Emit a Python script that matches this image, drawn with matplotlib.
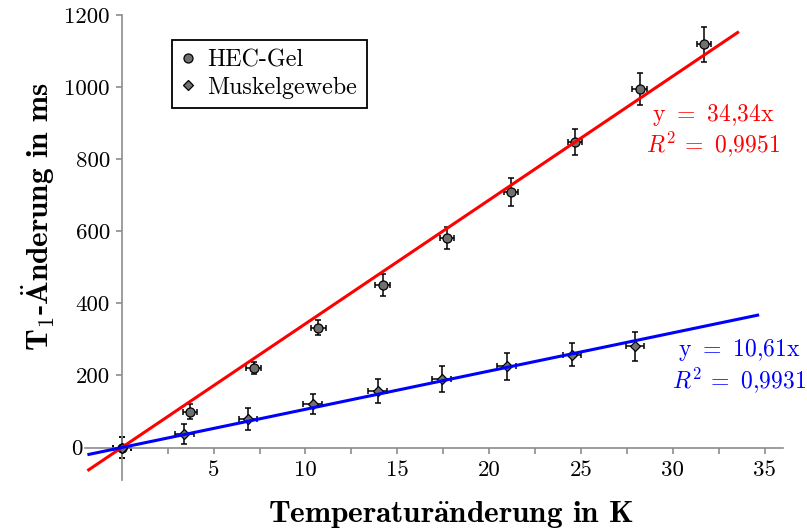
import matplotlib
matplotlib.use("Agg")
import matplotlib.pyplot as plt
from matplotlib.lines import Line2D
from matplotlib.transforms import ScaledTranslation
import numpy as np

plt.rcParams['font.family'] = 'cmr10'
plt.rcParams['mathtext.fontset'] = 'cm'
plt.rcParams['axes.formatter.use_mathtext'] = True

# ---- data ----
hec_x = [0, 3.72, 7.18, 10.7, 14.2, 17.7, 21.19, 24.67, 28.2, 31.7]
hec_y = [0, 100, 220, 333, 451, 582, 710, 848, 994, 1119]
hec_yerr = [28, 20, 16, 20, 30, 31, 39, 36, 45, 48]
hec_xerr = [0.5, 0.4, 0.4, 0.4, 0.4, 0.4, 0.4, 0.4, 0.4, 0.4]

mus_x = [0, 3.41, 6.89, 10.39, 13.93, 17.41, 20.95, 24.5, 27.95]
mus_y = [0, 37, 79, 120, 157, 190, 225, 257, 281]
mus_yerr = [28, 28, 30, 28, 33, 37, 37, 32, 40]
mus_xerr = [0.5, 0.5, 0.5, 0.5, 0.5, 0.5, 0.5, 0.5, 0.5]

hec_slope = 34.34
mus_slope = 10.61
hec_fit_range = [-1.87, 33.6]
mus_fit_range = [-1.87, 34.7]

hec_label = "HEC-Gel"
mus_label = "Muskelgewebe"
hec_eq = [r"y $=$ 34,34x", r"$R^2\,=$ 0,9951"]
mus_eq = [r"y $=$ 10,61x", r"$R^2\,=$ 0,9931"]

xticks = [5, 10, 15, 20, 25, 30, 35]
xtick_labels = ["5", "10", "15", "20", "25", "30", "35"]
xminor = [0, 2.5, 7.5, 12.5, 17.5, 22.5, 27.5, 32.5]
yticks = [0, 200, 400, 600, 800, 1000, 1200]
ytick_labels = ["0", "200", "400", "600", "800", "1000", "1200"]

xlabel = r"Temperatur$\mathbf{\ddot{a}}$nderung in K"
ylabel = r"T$_\mathbf{1}$-$\mathbf{\ddot{A}}$nderung in ms"

# ---- figure ----
W, H = 807, 532
fig = plt.figure(figsize=(W / 100, H / 100), dpi=100)
ax = fig.add_axes([85 / W, (H - 480) / H, (783 - 85) / W, (480 - 15) / H])
ax.set_xlim(-2, 36)
ax.set_ylim(-90, 1200)

axis_gray = "#8c8c8c"
for s in ["top", "right"]:
    ax.spines[s].set_visible(False)
ax.spines["left"].set_position(("data", 0))
ax.spines["bottom"].set_position(("data", 0))
for s in ["left", "bottom"]:
    ax.spines[s].set_color(axis_gray)
    ax.spines[s].set_linewidth(1.2)

ax.set_xticks(xticks, labels=xtick_labels)
ax.set_xticks(xminor, minor=True)
ax.set_yticks(yticks, labels=ytick_labels)
ax.tick_params(axis="both", which="both", color=axis_gray, width=1.2,
               direction="out", labelsize=16.5)
ax.tick_params(axis="x", which="both", length=4, pad=5)
ax.tick_params(axis="y", which="both", length=4.5, pad=4)

# move the y "0" label to the left of the x-axis line
fig.canvas.draw()
for lab in ax.get_yticklabels():
    if lab.get_text() == "0":
        lab.set_transform(lab.get_transform()
                          + ScaledTranslation(-0.27, 0, fig.dpi_scale_trans))

err_kw = dict(fmt="none", ecolor="black", elinewidth=1.1, capsize=2.2,
              capthick=1.1, zorder=2)
ax.errorbar(hec_x, hec_y, yerr=hec_yerr, xerr=hec_xerr, **err_kw)
ax.errorbar(mus_x, mus_y, yerr=mus_yerr, xerr=mus_xerr, **err_kw)
ax.plot(hec_x, hec_y, linestyle="none", marker="o", markersize=6.5,
        markerfacecolor="#707070", markeredgecolor="black",
        markeredgewidth=0.9, zorder=3)
ax.plot(mus_x, mus_y, linestyle="none", marker="D", markersize=5,
        markerfacecolor="#707070", markeredgecolor="black",
        markeredgewidth=0.9, zorder=3)

hx = np.array(hec_fit_range)
mx = np.array(mus_fit_range)
ax.plot(hx, hec_slope * hx, color="#ff0000", lw=2.2, zorder=4,
        solid_capstyle="butt")
ax.plot(mx, mus_slope * mx, color="#0000ff", lw=2.2, zorder=4,
        solid_capstyle="butt")

# equations
fig.text(713 / W, 1 - 115 / H, hec_eq[0], color="#ff0000", fontsize=17,
         ha="center", va="center")
fig.text(713 / W, 1 - 144 / H, hec_eq[1], color="#ff0000", fontsize=17,
         ha="center", va="center")
fig.text(739 / W, 1 - 350 / H, mus_eq[0], color="#0000ff", fontsize=17,
         ha="center", va="center")
fig.text(739 / W, 1 - 380 / H, mus_eq[1], color="#0000ff", fontsize=17,
         ha="center", va="center")

# legend
handles = [
    Line2D([], [], linestyle="none", marker="o", markersize=6.5,
           markerfacecolor="#707070", markeredgecolor="black",
           markeredgewidth=0.9),
    Line2D([], [], linestyle="none", marker="D", markersize=5,
           markerfacecolor="#707070", markeredgecolor="black",
           markeredgewidth=0.9),
]
leg = ax.legend(handles, [hec_label, mus_label], loc="upper left",
                bbox_to_anchor=(172 / W, 1 - 40 / H),
                bbox_transform=fig.transFigure, fancybox=False,
                edgecolor="black", framealpha=1, fontsize=17.3,
                handlelength=0.6, handletextpad=0.5, borderpad=0.38,
                labelspacing=0.22, borderaxespad=0)
leg.get_frame().set_linewidth(1.3)

# axis labels
fig.text(451 / W, 1 - 514 / H, xlabel, fontsize=22.5, family="cmb10",
         ha="center", va="center")
fig.text(38 / W, 1 - 216 / H, ylabel, fontsize=22.5, family="cmb10",
         rotation=90, ha="center", va="center")

fig.savefig("out.png", dpi=100)
